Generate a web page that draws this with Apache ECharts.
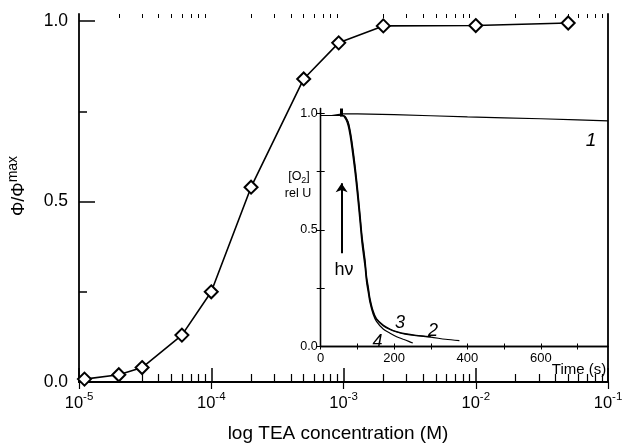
<!DOCTYPE html>
<html>
<head>
<meta charset="utf-8">
<script src="https://cdn.jsdelivr.net/npm/echarts@6/dist/echarts.min.js"></script>
<style>html,body{margin:0;padding:0;background:#fff}#c{width:626px;height:448px}</style>
</head>
<body>
<div id="c"></div>
<script>
// ---- main chart data ----
const teaConc = [1.1e-5, 2e-5, 3e-5, 6e-5, 1e-4, 2e-4, 5e-4, 9.2e-4, 2e-3, 1e-2, 5e-2];
const phiRatio = [0.008, 0.02, 0.04, 0.13, 0.25, 0.54, 0.84, 0.94, 0.987, 0.988, 0.995];

// ---- inset data (time in s, relative [O2]) ----
const time1 = [0, 30, 60, 100, 200, 300, 400, 500, 600, 700, 783];
const o2Curve1 = [0.99, 0.99, 0.997, 0.997, 0.994, 0.989, 0.984, 0.980, 0.976, 0.971, 0.967];
const time2 = [0, 30, 60, 66, 70, 75, 80, 85, 93, 100, 107, 113, 121, 125, 130, 134, 143, 152, 171, 190, 207, 230, 260, 300, 340, 378];
const o2Curve2 = [0.99, 0.99, 0.99, 0.985, 0.975, 0.957, 0.92, 0.87, 0.771, 0.671, 0.557, 0.457, 0.357, 0.29, 0.242, 0.2, 0.145, 0.116, 0.088, 0.072, 0.062, 0.053, 0.046, 0.04, 0.031, 0.025];
const time3 = [0, 30, 60, 66, 70, 75, 80, 85, 93, 100, 107, 113, 121, 125, 130, 134, 143, 152, 171, 190, 207, 230, 260, 300];
const o2Curve3 = [0.99, 0.99, 0.99, 0.987, 0.978, 0.962, 0.928, 0.88, 0.785, 0.685, 0.572, 0.47, 0.37, 0.302, 0.252, 0.21, 0.152, 0.12, 0.091, 0.074, 0.064, 0.055, 0.048, 0.042];
const time4 = [0, 30, 60, 65, 70, 75, 80, 85, 93, 100, 107, 113, 121, 125, 130, 134, 143, 152, 171, 189, 207, 225, 240, 251];
const o2Curve4 = [0.99, 0.99, 0.99, 0.982, 0.968, 0.945, 0.905, 0.85, 0.752, 0.65, 0.535, 0.435, 0.337, 0.275, 0.228, 0.19, 0.138, 0.108, 0.074, 0.057, 0.042, 0.031, 0.022, 0.015];

// ---- tick values ----
const mainYMajor = [0, 0.5, 1.0];
const mainYMinor = [0.25, 0.75];
const logDecades = [-5, -4, -3, -2, -1];
const logMinorMult = [2, 3, 4, 5, 6, 7, 8, 9];
const insetXTicks = [0, 100, 200, 300, 400, 500, 600, 700];
const insetXLabels = [0, 200, 400, 600];
const insetYTicks = [0, 0.25, 0.5, 0.75, 1.0];
const insetYLabels = [0, 0.5, 1.0];
const lightOnTime = 57;

const logMinorPos = [];
logDecades.slice(0, -1).forEach(d => logMinorMult.forEach(m => logMinorPos.push(d + Math.log10(m))));

const FF = '"Liberation Sans", Arial, sans-serif';
const zip = (a, b) => a.map((v, i) => [v, b[i]]);

const chart = echarts.init(document.getElementById('c'), null, {renderer: 'canvas'});

const hidden = {show: false};
const blackLine = w => ({show: true, lineStyle: {color: '#000', width: w}});

const option = {
  animation: false,
  backgroundColor: '#fff',
  grid: [
    {left: 79, top: 14, width: 529, height: 369, containLabel: false},
    {left: 320.7, top: 108.5, width: 287.3, height: 238, containLabel: false,
     show: true, backgroundColor: '#fff', borderWidth: 0}
  ],
  xAxis: [
    { // 0: main log axis (data)
      type: 'log', logBase: 10, min: 1e-5, max: 1e-1, gridIndex: 0, position: 'bottom',
      axisLine: blackLine(1.8),
      axisTick: {show: true, inside: true, length: 14, lineStyle: {color: '#000', width: 1.5}},
      splitLine: hidden, minorTick: hidden,
      axisLabel: {
        show: true, margin: 9, color: '#000', fontFamily: FF,
        formatter: v => '{b|10}{s|' + Math.round(Math.log10(v)) + '}',
        rich: {b: {fontSize: 16.5, fontFamily: FF, color: '#000'},
               s: {fontSize: 11.5, fontFamily: FF, color: '#000', padding: [0, 0, 13, 0]}}
      },
      name: 'log TEA concentration (M)', nameLocation: 'middle', nameGap: 42,
      nameTextStyle: {fontSize: 19, fontFamily: FF, color: '#000', padding: [0, 11, 0, 0]}
    },
    { // 1: bottom minor ticks
      type: 'value', min: -5, max: -1, gridIndex: 0, position: 'bottom',
      axisLine: hidden, splitLine: hidden, axisLabel: hidden,
      axisTick: {show: true, inside: true, length: 8, customValues: logMinorPos, lineStyle: {color: '#000', width: 1.2}}
    },
    { // 2: top major ticks + top border
      type: 'value', min: -5, max: -1, gridIndex: 0, position: 'top',
      axisLine: blackLine(1.8), splitLine: hidden, axisLabel: hidden,
      axisTick: {show: true, inside: true, length: 7, customValues: logDecades, lineStyle: {color: '#000', width: 1.2}}
    },
    { // 3: top minor ticks
      type: 'value', min: -5, max: -1, gridIndex: 0, position: 'top',
      axisLine: hidden, splitLine: hidden, axisLabel: hidden,
      axisTick: {show: true, inside: true, length: 4, customValues: logMinorPos, lineStyle: {color: '#000', width: 1}}
    },
    { // 4: inset time axis
      type: 'value', min: 0, max: 783, gridIndex: 1, position: 'bottom',
      axisLine: blackLine(1.3), splitLine: hidden,
      axisTick: {show: true, inside: true, length: 3, customValues: insetXTicks, lineStyle: {color: '#000', width: 1}},
      axisLabel: {show: true, customValues: insetXLabels, margin: 5, fontSize: 13, fontFamily: FF, color: '#000'}
    },
    { // 5: inset top
      type: 'value', min: 0, max: 783, gridIndex: 1, position: 'top',
      axisLine: blackLine(1.3), splitLine: hidden, axisLabel: hidden,
      axisTick: {show: true, inside: true, length: 3, customValues: insetXTicks, lineStyle: {color: '#000', width: 1}}
    }
  ],
  yAxis: [
    { // 0: main y
      type: 'value', min: 0, max: 1.02, gridIndex: 0, position: 'left',
      axisLine: blackLine(1.8), splitLine: hidden,
      axisTick: {show: true, inside: true, length: 16, customValues: mainYMajor, lineStyle: {color: '#000', width: 1.5}},
      axisLabel: {show: true, customValues: mainYMajor, margin: 11, fontSize: 17.5, fontFamily: FF, color: '#000',
                  formatter: v => v.toFixed(1)}
    },
    { // 1: main y minor
      type: 'value', min: 0, max: 1.02, gridIndex: 0, position: 'left',
      axisLine: hidden, splitLine: hidden, axisLabel: hidden,
      axisTick: {show: true, inside: true, length: 8, customValues: mainYMinor, lineStyle: {color: '#000', width: 1.5}}
    },
    { // 2: main right border
      type: 'value', min: 0, max: 1.02, gridIndex: 0, position: 'right',
      axisLine: blackLine(1.8), splitLine: hidden, axisLabel: hidden, axisTick: hidden
    },
    { // 3: inset y
      type: 'value', min: 0, max: 1.02, gridIndex: 1, position: 'left',
      axisLine: blackLine(1.3), splitLine: hidden,
      axisTick: {show: true, inside: true, length: 4, customValues: insetYTicks, lineStyle: {color: '#000', width: 1}},
      axisLabel: {show: true, customValues: insetYLabels, margin: 3, fontSize: 12.5, fontFamily: FF, color: '#000',
                  formatter: v => v.toFixed(1)}
    },
    { // 4: inset right
      type: 'value', min: 0, max: 1.02, gridIndex: 1, position: 'right',
      axisLine: blackLine(1.3), splitLine: hidden, axisLabel: hidden,
      axisTick: {show: true, inside: true, length: 4, customValues: insetYTicks, lineStyle: {color: '#000', width: 1}}
    }
  ],
  series: [
    {
      type: 'line', xAxisIndex: 0, yAxisIndex: 0, clip: false,
      data: zip(teaConc, phiRatio),
      symbol: 'diamond', symbolSize: 13,
      lineStyle: {color: '#000', width: 1.6},
      itemStyle: {color: '#fff', borderColor: '#000', borderWidth: 2},
      z: 5
    },
    {
      type: 'line', xAxisIndex: 4, yAxisIndex: 3, showSymbol: false, symbol: 'none',
      data: zip(time1, o2Curve1), lineStyle: {color: '#000', width: 1.2}
    },
    {
      type: 'line', xAxisIndex: 4, yAxisIndex: 3, showSymbol: false, symbol: 'none', smooth: 0.3,
      data: zip(time2, o2Curve2), lineStyle: {color: '#000', width: 1.2},
      markLine: {
        silent: true, symbol: 'none', label: {show: false},
        lineStyle: {color: '#000', width: 3, type: 'solid'},
        data: [[{coord: [lightOnTime, 0.985]}, {coord: [lightOnTime, 1.02]}]]
      }
    },
    {
      type: 'line', xAxisIndex: 4, yAxisIndex: 3, showSymbol: false, symbol: 'none', smooth: 0.3,
      data: zip(time3, o2Curve3), lineStyle: {color: '#000', width: 1.2}
    },
    {
      type: 'line', xAxisIndex: 4, yAxisIndex: 3, showSymbol: false, symbol: 'none', smooth: 0.3,
      data: zip(time4, o2Curve4), lineStyle: {color: '#000', width: 1.2},
      markLine: {
        silent: true, symbol: ['none', 'arrow'], symbolSize: 9, label: {show: false},
        lineStyle: {color: '#000', width: 2, type: 'solid'},
        data: [[{coord: [lightOnTime, 0.40]}, {coord: [lightOnTime, 0.70]}]]
      }
    }
  ],
  graphic: [
    {type: 'text', x: 19, y: 186, rotation: Math.PI / 2, z: 100,
     style: {text: '{a|Φ/Φ}{b|max}', align: 'center', verticalAlign: 'middle', textAlign: 'center', textVerticalAlign: 'middle',
             rich: {a: {fontSize: 18, fontFamily: FF, fill: '#000', color: '#000'},
                    b: {fontSize: 14, fontFamily: FF, fill: '#000', color: '#000', padding: [0, 0, 12, 0]}}}},
    {type: 'text', x: 299, y: 177, z: 100,
     style: {text: '{t|[O}{u|2}{t|]}', align: 'center', verticalAlign: 'middle', textAlign: 'center', textVerticalAlign: 'middle',
             rich: {t: {fontSize: 12.5, fontFamily: FF, fill: '#000', color: '#000'},
                    u: {fontSize: 9, fontFamily: FF, fill: '#000', color: '#000', padding: [7, 0, 0, 0]}}}},
    {type: 'text', x: 298, y: 193.5, z: 100,
     style: {text: 'rel U', fontSize: 12.5, fontFamily: FF, fill: '#000', align: 'center', verticalAlign: 'middle', textAlign: 'center', textVerticalAlign: 'middle'}},
    {type: 'text', x: 579, y: 370, z: 100,
     style: {text: 'Time (s)', fontSize: 15, fontFamily: FF, fill: '#000', align: 'center', verticalAlign: 'middle', textAlign: 'center', textVerticalAlign: 'middle'}},
    {type: 'text', x: 344, y: 270, z: 100,
     style: {text: 'hν', fontSize: 18, fontFamily: FF, fill: '#000', align: 'center', verticalAlign: 'middle', textAlign: 'center', textVerticalAlign: 'middle'}},
    {type: 'text', x: 591, y: 141, z: 100,
     style: {text: '1', fontSize: 19, fontStyle: 'italic', fontFamily: FF, fill: '#000', align: 'center', verticalAlign: 'middle', textAlign: 'center', textVerticalAlign: 'middle'}},
    {type: 'text', x: 433, y: 331, z: 100,
     style: {text: '2', fontSize: 18, fontStyle: 'italic', fontFamily: FF, fill: '#000', align: 'center', verticalAlign: 'middle', textAlign: 'center', textVerticalAlign: 'middle'}},
    {type: 'text', x: 400, y: 323, z: 100,
     style: {text: '3', fontSize: 18, fontStyle: 'italic', fontFamily: FF, fill: '#000', align: 'center', verticalAlign: 'middle', textAlign: 'center', textVerticalAlign: 'middle'}},
    {type: 'text', x: 377.5, y: 341.5, z: 100,
     style: {text: '4', fontSize: 18, fontStyle: 'italic', fontFamily: FF, fill: '#000', align: 'center', verticalAlign: 'middle', textAlign: 'center', textVerticalAlign: 'middle'}}
  ]
};
chart.setOption(option);
</script>
</body>
</html>
